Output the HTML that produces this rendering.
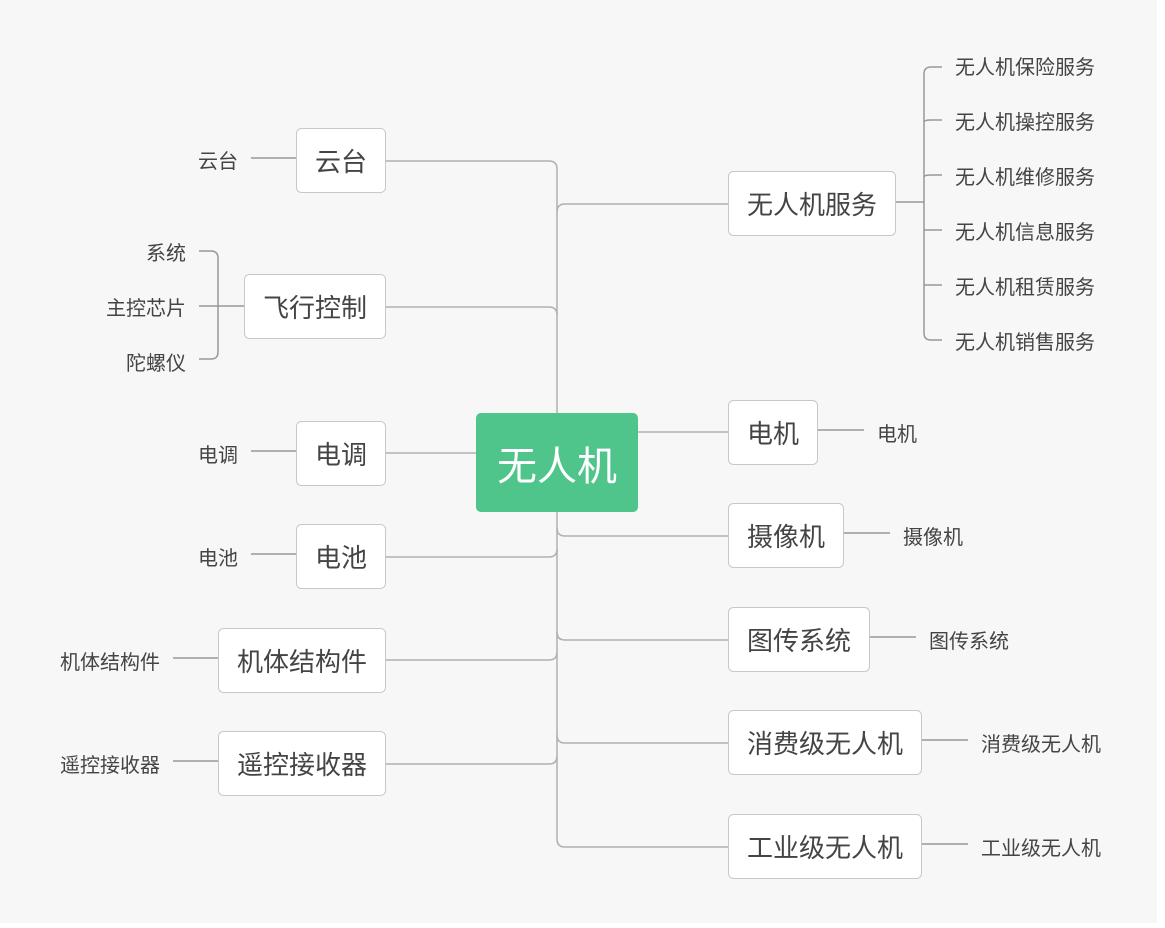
<!DOCTYPE html>
<html><head><meta charset="utf-8"><style>
html,body{margin:0;padding:0;background:#fff;}
svg{display:block;}
text{font-family:"Liberation Sans","Noto Sans CJK SC",sans-serif;fill:#444;}
.n{font-size:26px;}
.l{font-size:20px;}
</style></head><body>
<svg width="1165" height="928" viewBox="0 0 1165 928">
<rect x="0" y="0" width="1157" height="923" fill="#f7f7f7"/>
<g fill="none" stroke="#b0b0b0" stroke-width="1.5">
<path d="M557 169 V839"/>
<path d="M385 161 H549 Q557 161 557 169"/>
<path d="M385 307 H549 Q557 307 557 315"/>
<path d="M385 453 H476"/>
<path d="M385 557 H549 Q557 557 557 549"/>
<path d="M385 660 H549 Q557 660 557 652"/>
<path d="M385 764 H549 Q557 764 557 756"/>
<path d="M728 204 H565 Q557 204 557 212"/>
<path d="M637 432 H728"/>
<path d="M728 536 H565 Q557 536 557 528"/>
<path d="M728 640 H565 Q557 640 557 632"/>
<path d="M728 743 H565 Q557 743 557 735"/>
<path d="M728 847 H565 Q557 847 557 839"/>
</g>
<g fill="none" stroke="#999" stroke-width="1.5">
<path d="M251 158 H296"/>
<path d="M251 451 H296"/>
<path d="M251 554 H296"/>
<path d="M173 658 H218"/>
<path d="M173 761 H218"/>
<path d="M199 306 H244"/>
<path d="M199 251 H211 Q218 251 218 258 V352 Q218 359 211 359 H199"/>
<path d="M895 202 H924"/>
<path d="M942 67 H931 Q924 67 924 74 V333 Q924 340 931 340 H942"/>
<path d="M924 122 Q924 120 931 120 H942"/>
<path d="M924 177 Q924 175 931 175 H942"/>
<path d="M924 230 Q924 230 931 230 H942"/>
<path d="M924 285 Q924 285 931 285 H942"/>
<path d="M817 430 H864"/>
<path d="M843 533 H890"/>
<path d="M869 637 H916"/>
<path d="M921 740 H968"/>
<path d="M921 844 H968"/>
</g>
<g fill="#fff" stroke="#c8c8c8" stroke-width="1">
<rect x="296.5" y="128.5" width="89" height="64" rx="5"/>
<rect x="244.5" y="274.5" width="141" height="64" rx="5"/>
<rect x="296.5" y="421.5" width="89" height="64" rx="5"/>
<rect x="296.5" y="524.5" width="89" height="64" rx="5"/>
<rect x="218.5" y="628.5" width="167" height="64" rx="5"/>
<rect x="218.5" y="731.5" width="167" height="64" rx="5"/>
<rect x="728.5" y="171.5" width="167" height="64" rx="5"/>
<rect x="728.5" y="400.5" width="89" height="64" rx="5"/>
<rect x="728.5" y="503.5" width="115" height="64" rx="5"/>
<rect x="728.5" y="607.5" width="141" height="64" rx="5"/>
<rect x="728.5" y="710.5" width="193" height="64" rx="5"/>
<rect x="728.5" y="814.5" width="193" height="64" rx="5"/>
</g>
<rect x="476" y="413" width="162" height="99" rx="5" fill="#4fc48b"/>
<text x="557" y="480" text-anchor="middle" style="font-size:40px;fill:#fff">无人机</text>
<g text-anchor="middle">
<text class="n" x="341" y="171">云台</text>
<text class="n" x="315" y="317">飞行控制</text>
<text class="n" x="341" y="464">电调</text>
<text class="n" x="341" y="567">电池</text>
<text class="n" x="302" y="671">机体结构件</text>
<text class="n" x="302" y="774">遥控接收器</text>
<text class="n" x="812" y="214">无人机服务</text>
<text class="n" x="773" y="443">电机</text>
<text class="n" x="786" y="546">摄像机</text>
<text class="n" x="799" y="650">图传系统</text>
<text class="n" x="825" y="753">消费级无人机</text>
<text class="n" x="825" y="857">工业级无人机</text>
</g>
<g text-anchor="end">
<text class="l" x="238" y="168">云台</text>
<text class="l" x="186" y="260">系统</text>
<text class="l" x="186" y="315">主控芯片</text>
<text class="l" x="186" y="370">陀螺仪</text>
<text class="l" x="238" y="462">电调</text>
<text class="l" x="238" y="565">电池</text>
<text class="l" x="160" y="669">机体结构件</text>
<text class="l" x="160" y="772">遥控接收器</text>
</g>
<g>
<text class="l" x="955" y="74">无人机保险服务</text>
<text class="l" x="955" y="129">无人机操控服务</text>
<text class="l" x="955" y="184">无人机维修服务</text>
<text class="l" x="955" y="239">无人机信息服务</text>
<text class="l" x="955" y="294">无人机租赁服务</text>
<text class="l" x="955" y="349">无人机销售服务</text>
<text class="l" x="877" y="441">电机</text>
<text class="l" x="903" y="544">摄像机</text>
<text class="l" x="929" y="648">图传系统</text>
<text class="l" x="981" y="751">消费级无人机</text>
<text class="l" x="981" y="855">工业级无人机</text>
</g>
</svg>
</body></html>
